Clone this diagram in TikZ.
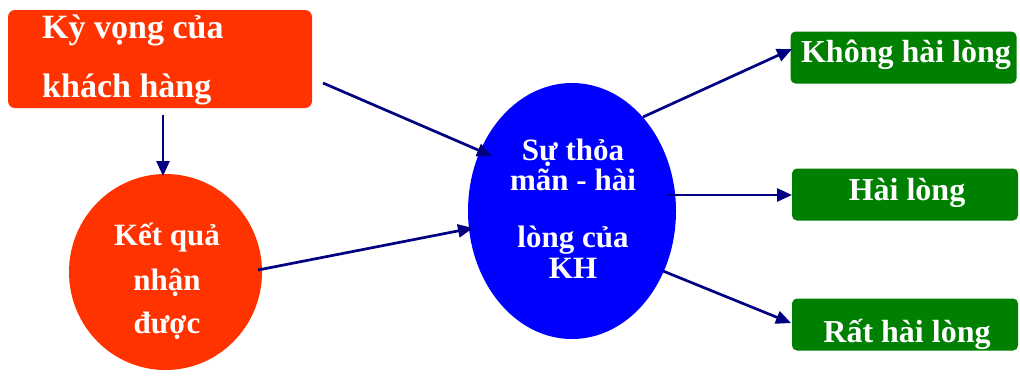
\documentclass[tikz,border=0pt]{standalone}
\usepackage{fontspec}
\setmainfont{Liberation Serif}
\usetikzlibrary{shapes.geometric,arrows.meta}
\definecolor{redfill}{HTML}{FF3300}
\definecolor{bluefill}{HTML}{0000FF}
\definecolor{greenfill}{HTML}{008000}
\definecolor{navyline}{HTML}{000080}
\tikzset{
  redbox/.style={rectangle, rounded corners=7pt, fill=redfill, inner sep=0pt},
  greenbox/.style={rectangle, rounded corners=5pt, fill=greenfill, inner sep=0pt, minimum width=226pt, minimum height=52pt},
  oval/.style={ellipse, inner sep=0pt},
  lbl/.style={text=white, inner sep=0pt, font=\bfseries\fontsize{#1}{#1}\selectfont},
  conn/.style={draw=navyline, line width=2.7pt, -{Triangle[length=15pt,width=13pt]}}
}
\begin{document}
\begin{tikzpicture}[x=1pt,y=-1pt]
\useasboundingbox (0,0) rectangle (1020,376);
% shapes
\node[redbox, minimum width=304pt, minimum height=98pt] (kv) at (160,59) {};
\node[oval, fill=redfill, minimum width=193pt, minimum height=196pt] (kq) at (165.5,272) {};
\node[oval, fill=bluefill, minimum width=208pt, minimum height=256pt] (sat) at (572,211) {};
\node[greenbox] (g1) at (903.5,57.5) {};
\node[greenbox] (g2) at (905,194.5) {};
\node[greenbox] (g3) at (905,324.5) {};
% texts
\node[lbl=34, anchor=base west] (kvt1) at (42,38) {Kỳ vọng của};
\node[lbl=34, anchor=base west] (kvt2) at (42,97) {khách hàng};
\node[lbl=31, anchor=base] (kqt1) at (167,245) {Kết quả};
\node[lbl=31, anchor=base] (kqt2) at (167,290) {nhận};
\node[lbl=31, anchor=base] (kqt3) at (167,333) {được};
\node[lbl=31, anchor=base] (st1) at (573,160) {Sự thỏa};
\node[lbl=31, anchor=base] (st2) at (573,190) {mãn - hài};
\node[lbl=31, anchor=base] (st3) at (573,247) {lòng của};
\node[lbl=31, anchor=base] (st4) at (573,278) {KH};
\node[lbl=32, anchor=base] (gt1) at (906,62) {Không hài lòng};
\node[lbl=32, anchor=base] (gt2) at (907,200) {Hài lòng};
\node[lbl=32, anchor=base] (gt3) at (907,342) {Rất hài lòng};
% connector end points
\coordinate (a1s) at (323,83);
\coordinate (a1e) at (492,156);
\coordinate (a2s) at (163,115);
\coordinate (a2e) at (163,176);
\coordinate (a3s) at (258,270);
\coordinate (a3e) at (473,228);
\coordinate (a4s) at (643,117);
\coordinate (a4e) at (792,49);
\coordinate (a5s) at (667,195);
\coordinate (a5e) at (792,195);
\coordinate (a6s) at (663,271);
\coordinate (a6e) at (791,323);
% connectors
\draw[conn] (a1s) -- (a1e);
\draw[conn] (a2s) -- (a2e);
\draw[conn] (a3s) -- (a3e);
\draw[conn] (a4s) -- (a4e);
\draw[conn] (a5s) -- (a5e);
\draw[conn] (a6s) -- (a6e);
\end{tikzpicture}
\end{document}
